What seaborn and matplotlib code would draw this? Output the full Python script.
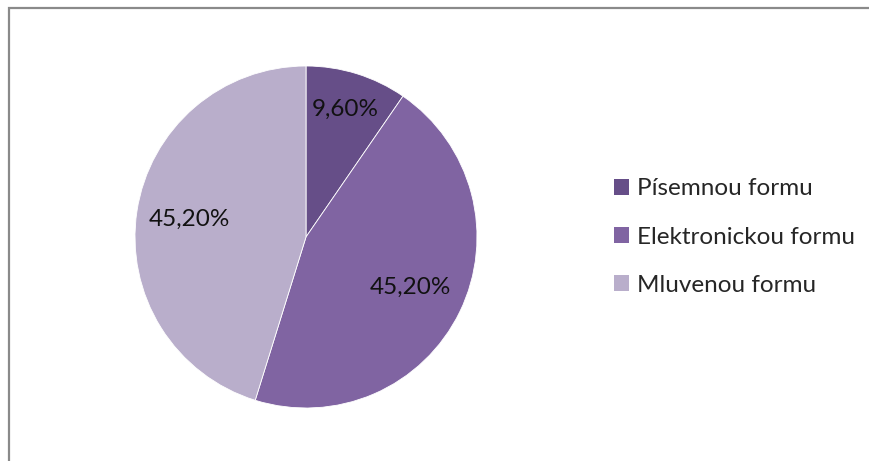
import matplotlib
matplotlib.use("Agg")
import matplotlib.pyplot as plt
import seaborn as sns
from matplotlib.patches import Rectangle, Patch
import numpy as np

categories = ["Písemnou formu", "Elektronickou formu", "Mluvenou formu"]
shares = [9.60, 45.20, 45.20]
label_texts = ["9,60%", "45,20%", "45,20%"]
colors = ["#664E88", "#8064A2", "#B9AECB"]
label_radius = [0.78, 0.68, 0.69]

sns.set_theme(style="white")
plt.rcParams["font.family"] = ["Lato", "DejaVu Sans"]

fig = plt.figure(figsize=(8.7, 4.61), dpi=100)
fig.patch.set_facecolor("white")

# chart frame (runs off the right and bottom edges)
fig.patches.append(Rectangle((9.5 / 870, -0.05), 1.2, 1 - 7.5 / 461 + 0.05,
                             transform=fig.transFigure, fill=False,
                             edgecolor="#8a8a8a", linewidth=1.6, zorder=0))

ax = fig.add_axes([135 / 870, 53 / 461, 342 / 870, 342 / 461])
wedges, _ = ax.pie(shares, colors=sns.color_palette(colors), startangle=90,
                   counterclock=False, radius=1.0,
                   wedgeprops=dict(linewidth=0.6, edgecolor="white"))
ax.set_xlim(-1, 1)
ax.set_ylim(-1, 1)
ax.set_aspect("equal")

for w, txt, r in zip(wedges, label_texts, label_radius):
    ang = np.deg2rad((w.theta1 + w.theta2) / 2)
    ax.text(r * np.cos(ang), r * np.sin(ang), txt, ha="center", va="center",
            fontsize=17.5, color="#111111")

handles = [Patch(facecolor=c, edgecolor="none") for c in colors]
fig.legend(handles, categories, loc="center left",
           bbox_to_anchor=(614 / 870, 1 - 237 / 461), frameon=False,
           fontsize=17.5, handlelength=0.63, handleheight=0.63,
           handletextpad=0.33, labelspacing=1.12, borderaxespad=0,
           borderpad=0)

fig.savefig("out.png", dpi=100, facecolor="white")
